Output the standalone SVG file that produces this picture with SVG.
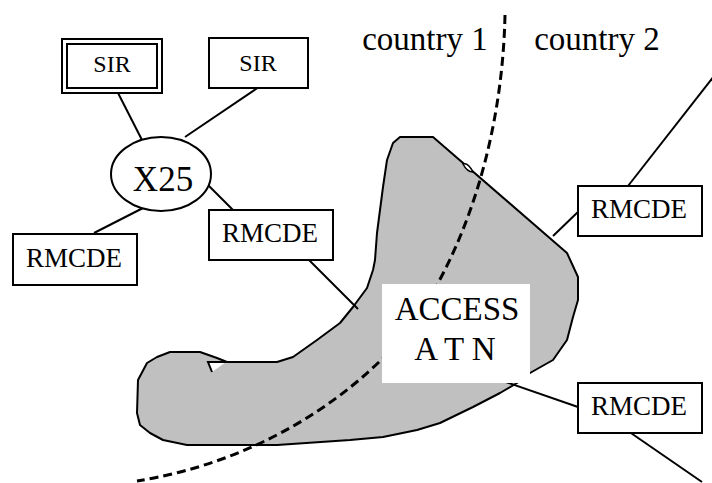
<svg xmlns="http://www.w3.org/2000/svg" width="712" height="483" viewBox="0 0 712 483">
<style>
.box{fill:#fff;stroke:#000;stroke-width:2}
.ln{fill:none;stroke:#000;stroke-width:2}
.t{font-family:"Liberation Serif","Times New Roman",serif;fill:#000;text-anchor:middle}
</style>
<rect width="712" height="483" fill="#fff"/>
<g id="access-atn">
<path d="M400,137 L433,137 L567,253 L578,277 L578,300 L573,317 L567,340 L553,360 L530,373 L517,383 L500,393 L473,407 L440,423 L417,430 L383,437 L350,440 L277,445 L187,445 L163,440 L150,433 L140,425 L137,413 L138,380 L147,363 L157,357 L170,352 L200,352 L217,358 L227,362 L277,362 L293,357 L317,340 L340,323 L353,307 L367,288 L373,270 L375,260 L377,233 L383,187 L387,160 L393,143 Z" fill="#c0c0c0" stroke="#000" stroke-width="2" stroke-linejoin="round"/>
<path d="M208,362 L212,372 L226,362 Z" fill="#fff"/>
<path d="M226,362 L208,362 L212,372" class="ln"/>
<path d="M463,164 Q468,162 473,172 Q467,172 463,164 Z" fill="#fff" stroke="#000" stroke-width="1.5"/>
</g>
<g id="connectors">
<line x1="116" y1="89" x2="142" y2="140" class="ln"/>
<line x1="259" y1="87" x2="185" y2="137" class="ln"/>
<line x1="143" y1="208" x2="94" y2="233" class="ln"/>
<line x1="208" y1="185" x2="234" y2="211" class="ln"/>
<line x1="307" y1="258" x2="358" y2="309" class="ln"/>
<line x1="628" y1="186" x2="714" y2="76" class="ln"/>
<line x1="553" y1="236" x2="580" y2="210" class="ln" stroke-width="3"/>
<line x1="503" y1="381" x2="578" y2="407" class="ln" stroke-width="3"/>
<line x1="628" y1="431" x2="702" y2="482" class="ln"/>
</g>
<path id="border" d="M505,15 C503,110 480,210 433,292 C405,350 300,455 137,481" fill="none" stroke="#000" stroke-width="3" stroke-dasharray="9,5"/>
<g id="access-label">
<rect x="382" y="284" width="148" height="99" fill="#fff"/>
<text x="457" y="320" class="t" font-size="33">ACCESS</text>
<text x="455" y="360" class="t" font-size="33">A T N</text>
</g>
<g id="sir1">
<rect x="62" y="39" width="100" height="54" class="box"/>
<rect x="67" y="44" width="90" height="44" class="box"/>
<text x="112" y="72" class="t" font-size="24">SIR</text>
</g>
<g id="sir2">
<rect x="209" y="38" width="99" height="50" class="box"/>
<text x="258" y="71" class="t" font-size="24">SIR</text>
</g>
<g id="x25">
<ellipse cx="161" cy="174" rx="50" ry="37" class="box"/>
<text x="163" y="191" class="t" font-size="35">X25</text>
</g>
<g id="rmcde1">
<rect x="13" y="234" width="124" height="51" class="box"/>
<text x="74" y="267" class="t" font-size="27">RMCDE</text>
</g>
<g id="rmcde2">
<rect x="209" y="210" width="124" height="50" class="box"/>
<text x="270" y="242" class="t" font-size="27">RMCDE</text>
</g>
<g id="rmcde3">
<rect x="578" y="186" width="124" height="50" class="box"/>
<text x="639" y="218" class="t" font-size="27">RMCDE</text>
</g>
<g id="rmcde4">
<rect x="578" y="383" width="124" height="50" class="box"/>
<text x="639" y="415" class="t" font-size="27">RMCDE</text>
</g>
<text x="425" y="50" class="t" font-size="33">country 1</text>
<text x="597" y="50" class="t" font-size="33">country 2</text>
</svg>
